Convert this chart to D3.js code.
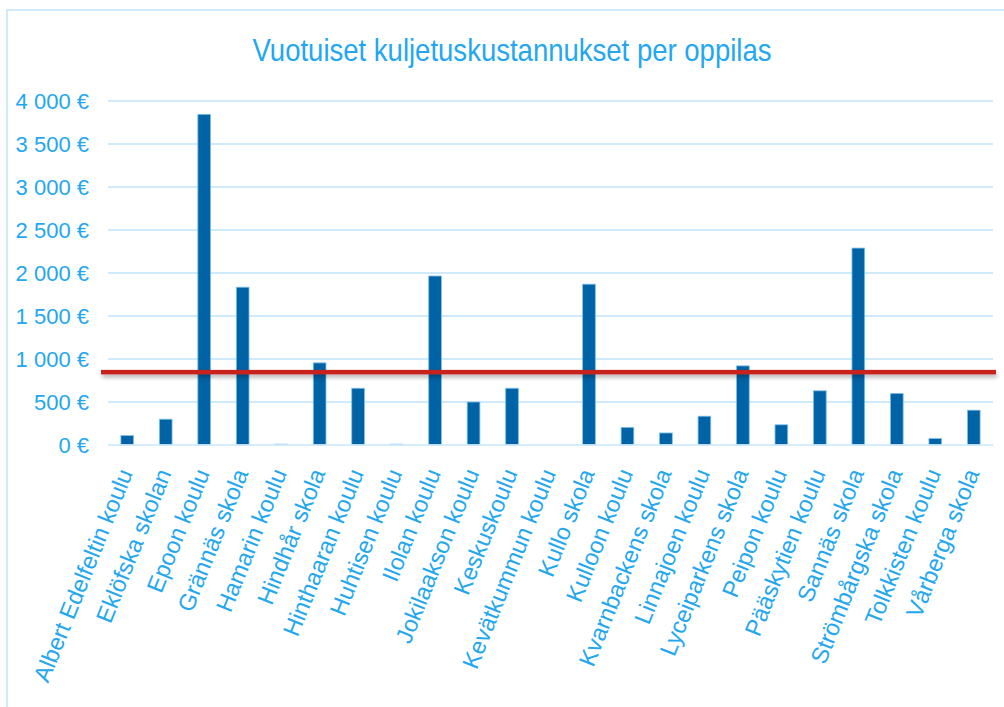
<!DOCTYPE html>
<html>
<head>
<meta charset="utf-8">
<script src="https://cdn.jsdelivr.net/npm/d3@7"></script>
<style>
  body { margin: 0; background: #fff; }
  svg { display: block; font-family: "Liberation Sans", Arial, sans-serif; }
</style>
</head>
<body>
<svg id="chart" width="1004" height="707"></svg>
<script>
// schools (categories)
var schools = ["Albert Edelfeltin koulu", "Eklöfska skolan", "Epoon koulu", "Grännäs skola",
  "Hamarin koulu", "Hindhår skola", "Hinthaaran koulu", "Huhtisen koulu", "Ilolan koulu",
  "Jokilaakson koulu", "Keskuskoulu", "Kevätkummun koulu", "Kullo skola", "Kulloon koulu",
  "Kvarnbackens skola", "Linnajoen koulu", "Lyceiparkens skola", "Peipon koulu",
  "Pääskytien koulu", "Sannäs skola", "Strömbårgska skola", "Tolkkisten koulu", "Vårberga skola"];

// yearly transport cost per pupil (€)
var costs = [110, 300, 3845, 1835, 10, 955, 660, 10, 1965, 500, 660, 0, 1870, 205,
  140, 335, 920, 235, 630, 2290, 600, 75, 405];

// average line (€)
var average = 850;

var yTicks = [0, 500, 1000, 1500, 2000, 2500, 3000, 3500, 4000];

var title = "Vuotuiset kuljetuskustannukset per oppilas";

var svg = d3.select("#chart");

var textColor = "#22a7f0";
var gridColor = "#cfeafb";
var barColor = "#0063a6";

// outer frame, runs off the right and bottom edge like the picture
svg.append("rect")
  .attr("x", 7).attr("y", 10)
  .attr("width", 1010).attr("height", 720)
  .attr("fill", "none")
  .attr("stroke", gridColor)
  .attr("stroke-width", 2);

var x = d3.scaleBand()
  .domain(schools)
  .range([108, 993])
  .paddingInner(0.67)
  .paddingOuter(0.335);

var y = d3.scaleLinear()
  .domain([0, 4000])
  .range([445, 101]);

// title
svg.append("text")
  .attr("x", 512).attr("y", 61)
  .attr("text-anchor", "middle")
  .attr("fill", textColor)
  .style("font-size", "32px")
  .attr("textLength", 519)
  .attr("lengthAdjust", "spacingAndGlyphs")
  .text(title);

// gridlines
svg.append("g").selectAll("line")
  .data(yTicks.filter(function(d) { return d > 0; }))
  .enter().append("line")
  .attr("x1", 108).attr("x2", 993)
  .attr("y1", function(d) { return y(d); })
  .attr("y2", function(d) { return y(d); })
  .attr("stroke", gridColor)
  .attr("stroke-width", 2);

// y axis labels
var fmt = function(d) { return d3.format(",")(d).replace(/,/g, " ") + " €"; };
var yAxis = d3.axisLeft(y).tickValues(yTicks).tickSize(0).tickPadding(0).tickFormat(fmt);
var ya = svg.append("g")
  .attr("transform", "translate(89,0)")
  .call(yAxis);
ya.select(".domain").remove();
ya.selectAll("text")
  .attr("fill", textColor)
  .style("font-size", "22px")
  .attr("dy", "0.36em");

// bars
svg.append("g").selectAll("rect")
  .data(costs)
  .enter().append("rect")
  .attr("x", function(d, i) { return x(schools[i]); })
  .attr("y", function(d) { return y(d); })
  .attr("width", x.bandwidth())
  .attr("height", function(d) { return y(0) - y(d); })
  .attr("fill", function(d) { return d > 20 ? barColor : "#6fb6e6"; })
  .attr("stroke", "#7fc0ec")
  .attr("stroke-width", function(d) { return d > 0 ? 0.8 : 0; });

// zero line drawn over the bar bottoms
svg.append("line")
  .attr("x1", 108).attr("x2", 993)
  .attr("y1", y(0)).attr("y2", y(0))
  .attr("stroke", gridColor)
  .attr("stroke-width", 2)
  .attr("opacity", 0.85);

// category labels, rotated
var xAxis = d3.axisBottom(x).tickSize(0).tickPadding(0);
var xa = svg.append("g")
  .call(xAxis);
xa.select(".domain").remove();
xa.selectAll(".tick").attr("transform", null);
xa.selectAll("text")
  .attr("fill", textColor)
  .style("font-size", "23.5px")
  .attr("text-anchor", "end")
  .attr("y", null).attr("dy", null)
  .attr("transform", function(d) {
    return "translate(" + (x(d) + x.bandwidth() / 2 + 6) + ",473) rotate(-68)";
  });

// average line with soft shadow (rects, so the filter box is not empty)
var defs = svg.append("defs");
var f = defs.append("filter").attr("id", "shadow")
  .attr("filterUnits", "userSpaceOnUse")
  .attr("x", 90).attr("y", y(average) - 15).attr("width", 920).attr("height", 30);
f.append("feDropShadow")
  .attr("dx", 1).attr("dy", 3).attr("stdDeviation", 2)
  .attr("flood-color", "#000").attr("flood-opacity", 0.3);

svg.append("rect")
  .attr("x", 101).attr("width", 895)
  .attr("y", y(average) - 2).attr("height", 4.5)
  .attr("fill", "#c8201e")
  .attr("filter", "url(#shadow)");
</script>
</body>
</html>
